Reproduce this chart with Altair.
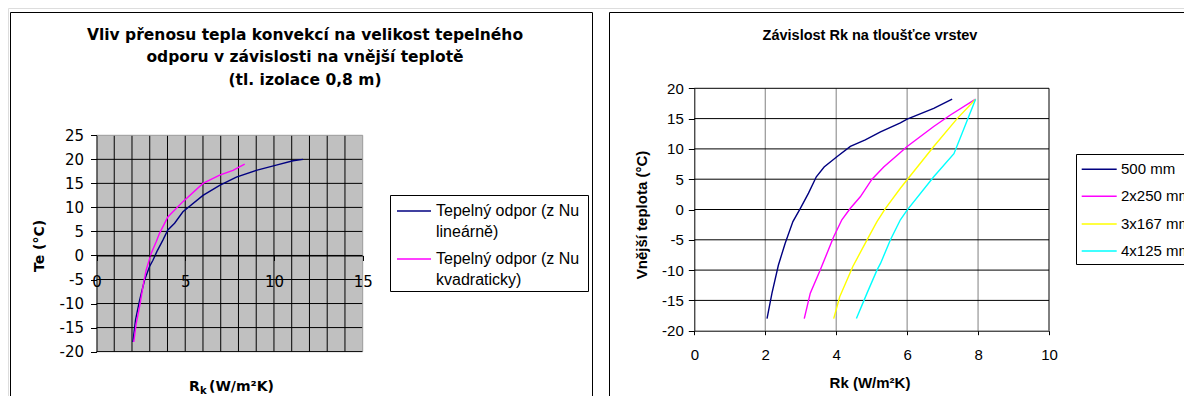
import altair as alt
import pandas as pd

# ---------------- data ----------------
LEFT_NAMES = ["Tepelný odpor (z Nu lineárně)", "Tepelný odpor (z Nu kvadraticky)"]
LEFT_COLORS = ["#000080", "#FF00FF"]
LIN_RK = [2.05, 2.2, 2.43, 2.71, 2.99, 3.18, 3.4, 3.74, 4.02, 4.4, 4.87, 6.0, 6.94, 7.88, 9.0, 10.13, 11.07, 11.64]
LIN_TE = [-18, -13.4, -9.3, -5.1, -2.3, -1.0, 0.8, 3.2, 5.3, 6.7, 9.1, 12.5, 14.6, 16.3, 17.7, 18.8, 19.7, 20.0]
KVA_RK = [2.1, 2.24, 2.43, 2.65, 2.8, 3.08, 3.37, 3.55, 4.02, 4.87, 6.0, 6.94, 7.69, 8.35]
KVA_TE = [-18, -14.1, -10.6, -5.8, -3.0, 0.4, 2.9, 4.6, 8.0, 11.2, 15.0, 16.7, 17.7, 19.0]

RIGHT_NAMES = ["500 mm", "2x250 mm", "3x167 mm", "4x125 mm"]
RIGHT_COLORS = ["#000080", "#FF00FF", "#FFFF00", "#00FFFF"]
R1_RK = [2.05, 2.19, 2.37, 2.56, 2.78, 2.99, 3.22, 3.44, 3.66, 4.02, 4.4, 4.82, 5.25, 5.81, 6.0, 6.75, 7.27]
R1_TE = [-18, -13.8, -9.2, -5.6, -2.0, 0.2, 2.7, 5.4, 7.0, 8.7, 10.4, 11.5, 12.8, 14.3, 14.9, 16.7, 18.2]
R2_RK = [3.1, 3.27, 3.55, 3.93, 4.16, 4.4, 4.68, 5.01, 5.34, 5.81, 6.0, 6.75, 7.22, 7.93]
R2_TE = [-18, -13.8, -10.0, -4.5, -1.7, 0.2, 2.1, 5.0, 7.0, 9.4, 10.4, 13.7, 15.6, 18.2]
R3_RK = [3.93, 4.1, 4.47, 4.87, 5.15, 5.39, 5.81, 6.0, 6.75, 7.41, 7.93]
R3_TE = [-18, -14.4, -9.4, -5.0, -2.0, 0.2, 3.5, 4.9, 10.4, 15.0, 18.2]
R4_RK = [4.57, 4.87, 5.15, 5.25, 5.53, 5.81, 6.0, 6.75, 7.32, 7.55, 7.93]
R4_TE = [-18, -13.8, -10.0, -8.9, -5.0, -1.7, -0.1, 5.4, 9.2, 12.6, 18.2]

LEFT_X_TICKS = [0, 5, 10, 15]
LEFT_Y_TICKS = [-20, -15, -10, -5, 0, 5, 10, 15, 20, 25]
LEFT_X_GRID = list(range(1, 15))
LEFT_Y_GRID = [-20, -15, -10, -5, 0, 5, 10, 15, 20]
RIGHT_X_TICKS = [0, 2, 4, 6, 8, 10]
RIGHT_Y_TICKS = [-20, -15, -10, -5, 0, 5, 10, 15, 20]
RIGHT_X_GRID = [2, 4, 6, 8]
RIGHT_Y_GRID = [-15, -10, -5, 0, 5, 10, 15, 20]

LEFT_TITLE = ["Vliv přenosu tepla konvekcí na velikost tepelného",
              "odporu v závislosti na vnější teplotě",
              "(tl. izolace 0,8 m)"]
RIGHT_TITLE = "Závislost Rk na tloušťce vrstev"

# ---------------- tables ----------------
def series_df(names, xs_list, ys_list):
    parts = []
    for n, xs, ys in zip(names, xs_list, ys_list):
        parts.append(pd.DataFrame({"rk": xs, "te": ys, "serie": n, "i": list(range(len(xs)))}))
    return pd.concat(parts, ignore_index=True)

left_df = series_df(LEFT_NAMES, [LIN_RK, KVA_RK], [LIN_TE, KVA_TE])
right_df = series_df(RIGHT_NAMES, [R1_RK, R2_RK, R3_RK, R4_RK], [R1_TE, R2_TE, R3_TE, R4_TE])
ONE = pd.DataFrame({"k": [0]})

W, H = 1176, 388
SANS = "Liberation Sans"
WIDE = "DejaVu Sans"
PLAIN = "'' + datum.value"   # hyphen-minus labels as in the original

# ---------------- left chart ----------------
lx = alt.Scale(domain=[0, 15], range=[88.5, 354.7], nice=False, zero=False)
ly = alt.Scale(domain=[-20, 25], range=[343.6, 127.3], nice=False, zero=False)
ax_lx = alt.Axis(
    orient="bottom", offset=-(H - 247.5), values=LEFT_X_TICKS, title=None, grid=False,
    domainColor="black", tickColor="black", tickSize=5, labelPadding=20.5,
    labelBaseline="middle", labelFlush=False, labelFont=WIDE, labelFontSize=15,
    labelColor="black", labelExpr=PLAIN, zindex=1)
ax_ly = alt.Axis(
    orient="left", offset=-88.5, values=LEFT_Y_TICKS, title=None, grid=False,
    domainColor="black", tickColor="black", tickSize=6, labelPadding=7,
    labelFlush=False, labelFont=WIDE, labelFontSize=15, labelColor="black",
    labelExpr=PLAIN, zindex=1)

bgL = alt.Chart(ONE).mark_rect(fill="#C0C0C0").encode(
    x=alt.X(datum=0, scale=lx, axis=ax_lx), x2=alt.X2(datum=15),
    y=alt.Y(datum=-20, scale=ly, axis=ax_ly), y2=alt.Y2(datum=25))
vgL = alt.Chart(pd.DataFrame({"g": LEFT_X_GRID})).mark_rule(color="black", strokeWidth=1).encode(
    x=alt.X("g:Q", scale=lx, axis=ax_lx),
    y=alt.Y(datum=-20, scale=ly, axis=ax_ly), y2=alt.Y2(datum=25))
hgL = alt.Chart(pd.DataFrame({"g": LEFT_Y_GRID})).mark_rule(color="black", strokeWidth=1).encode(
    y=alt.Y("g:Q", scale=ly, axis=ax_ly),
    x=alt.X(datum=0, scale=lx, axis=ax_lx), x2=alt.X2(datum=15))
topL = alt.Chart(ONE).mark_rule(color="#9A9A9A", strokeWidth=1).encode(
    y=alt.Y(datum=25, scale=ly, axis=ax_ly),
    x=alt.X(datum=0, scale=lx, axis=ax_lx), x2=alt.X2(datum=15))
rightL = alt.Chart(ONE).mark_rule(color="#9A9A9A", strokeWidth=1).encode(
    x=alt.X(datum=15, scale=lx, axis=ax_lx),
    y=alt.Y(datum=-20, scale=ly, axis=ax_ly), y2=alt.Y2(datum=25))
linesL = alt.Chart(left_df).mark_line(strokeWidth=1.4).encode(
    x=alt.X("rk:Q", scale=lx, axis=ax_lx),
    y=alt.Y("te:Q", scale=ly, axis=ax_ly),
    color=alt.Color("serie:N", scale=alt.Scale(domain=LEFT_NAMES, range=LEFT_COLORS), legend=None),
    order="i:Q")

left = alt.layer(bgL, vgL, hgL, topL, rightL, linesL)

# ---------------- right chart ----------------
rx = alt.Scale(domain=[0, 10], range=[686.3, 1041], nice=False, zero=False)
ry = alt.Scale(domain=[-20, 20], range=[322.7, 80.3], nice=False, zero=False)
ax_rx = alt.Axis(
    orient="bottom", offset=-(H - 322.7), values=RIGHT_X_TICKS, title=None, grid=False,
    domainColor="black", tickColor="black", tickSize=4, labelPadding=19.3,
    labelBaseline="middle", labelFlush=False, labelFont=SANS, labelFontSize=15,
    labelColor="black", labelExpr=PLAIN, zindex=1)
ax_ry = alt.Axis(
    orient="left", offset=-686.3, values=RIGHT_Y_TICKS, title=None, grid=False,
    domainColor="black", tickColor="black", tickSize=6, labelPadding=5,
    labelFlush=False, labelFont=SANS, labelFontSize=15, labelColor="black",
    labelExpr=PLAIN, zindex=1)

vgR = alt.Chart(pd.DataFrame({"g": RIGHT_X_GRID})).mark_rule(color="#808080", strokeWidth=1).encode(
    x=alt.X("g:Q", scale=rx, axis=ax_rx),
    y=alt.Y(datum=-20, scale=ry, axis=ax_ry), y2=alt.Y2(datum=20))
borderR = alt.Chart(ONE).mark_rule(color="black", strokeWidth=1).encode(
    x=alt.X(datum=10, scale=rx, axis=ax_rx),
    y=alt.Y(datum=-20, scale=ry, axis=ax_ry), y2=alt.Y2(datum=20))
hgR = alt.Chart(pd.DataFrame({"g": RIGHT_Y_GRID})).mark_rule(color="black", strokeWidth=1).encode(
    y=alt.Y("g:Q", scale=ry, axis=ax_ry),
    x=alt.X(datum=0, scale=rx, axis=ax_rx), x2=alt.X2(datum=10))
linesR = alt.Chart(right_df).mark_line(strokeWidth=1.4).encode(
    x=alt.X("rk:Q", scale=rx, axis=ax_rx),
    y=alt.Y("te:Q", scale=ry, axis=ax_ry),
    color=alt.Color("serie:N", scale=alt.Scale(domain=RIGHT_NAMES, range=RIGHT_COLORS), legend=None),
    order="i:Q")

right = alt.layer(vgR, borderR, hgR, linesR)

# ---------------- decoration: frames, titles, legends ----------------
def frame(x1, x2, y1, y2, fill=None):
    kw = dict(stroke="black", strokeWidth=1)
    if fill:
        m = alt.Chart(ONE).mark_rect(fill=fill, **kw)
    else:
        m = alt.Chart(ONE).mark_rect(filled=False, **kw)
    return m.encode(x=alt.value(x1), x2=alt.value(x2), y=alt.value(y1), y2=alt.value(y2))

def txt(s, x, y, size, font, bold=False, angle=0, align="center"):
    return alt.Chart(ONE).mark_text(
        fontSize=size, font=font, fontWeight="bold" if bold else "normal",
        angle=angle, align=align, baseline="middle", color="black"
    ).encode(x=alt.value(x), y=alt.value(y), text=alt.value(s))

def swatch(color, x1, x2, y):
    return alt.Chart(ONE).mark_rule(color=color, strokeWidth=1.4).encode(
        x=alt.value(x1), x2=alt.value(x2), y=alt.value(y))

deco_back = [frame(2.5, 584.5, 4.5, 420), frame(601.5, 1300, 4.5, 420)]

deco = []
for s, yy in zip(LEFT_TITLE, [27, 49, 72]):
    deco.append(txt(s, 297, yy, 15.5, WIDE, bold=True))
deco.append(txt("Te (°C)", 32, 238, 14, WIDE, bold=True, angle=270))
deco.append(txt("R", 181, 378.7, 14, WIDE, bold=True, align="left"))
deco.append(txt("k", 192, 382.5, 10, WIDE, bold=True, align="left"))
deco.append(txt("(W/m²K)", 201, 378.7, 14, WIDE, bold=True, align="left"))

# left legend
deco.append(frame(382.5, 580.5, 187.5, 283.5, fill="white"))
for c, name, y0 in zip(LEFT_COLORS, LEFT_NAMES, [202.5, 250.5]):
    deco.append(swatch(c, 389, 423, y0 + 0.5))
    first, second = name[:19], name[20:]
    deco.append(txt(first, 428, y0, 16, SANS, align="left"))
    deco.append(txt(second, 428, y0 + 21, 16, SANS, align="left"))

# right chart texts
deco.append(txt(RIGHT_TITLE, 862, 28, 14.5, SANS, bold=True))
deco.append(txt("Vnější teplota (°C)", 633.7, 207, 15, SANS, bold=True, angle=270))
deco.append(txt("Rk (W/m²K)", 862, 375.3, 15, SANS, bold=True))

# right legend
deco.append(frame(1068.5, 1300, 146.5, 256.5, fill="white"))
for c, name, yy in zip(RIGHT_COLORS, RIGHT_NAMES, [161.3, 188.3, 216, 243]):
    deco.append(swatch(c, 1073.7, 1108.7, yy))
    deco.append(txt(name, 1113, yy, 15, SANS, align="left"))

chart = alt.layer(*deco_back, left, right, *deco).resolve_scale(
    x="independent", y="independent", color="independent"
).properties(
    width=W, height=H, padding=0, autosize=alt.AutoSizeParams(type="none")
).configure_view(stroke=None).configure(background="white")

chart.save("out.html", embed_options={"renderer": "svg", "actions": False})
